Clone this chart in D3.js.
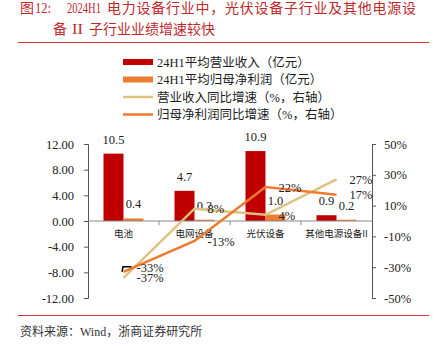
<!DOCTYPE html>
<html>
<head>
<meta charset="utf-8">
<script src="https://cdn.jsdelivr.net/npm/d3@7/dist/d3.min.js"></script>
<style>
  html, body { margin: 0; padding: 0; background: #fff; }
  svg { display: block; }
  text { font-family: "Liberation Serif", "Noto Sans CJK SC", serif; }
</style>
</head>
<body>
<svg id="chart" width="437" height="346"></svg>
<script>
// Sub-industry results, 2024H1
const categories = ["电池", "电网设备", "光伏设备", "其他电源设备II"];
const revenue = [10.5, 4.7, 10.9, 0.9];        // 平均营业收入（亿元）
const profit = [0.4, 0.2, 1.0, 0.2];           // 平均归母净利润（亿元）
const revenueYoY = [-37, 8, 4, 27];            // 营业收入同比增速（%）
const profitYoY = [-33, -13, 22, 17];          // 归母净利润同比增速（%）
const leftTicks = [12, 8, 4, 0, -4, -8, -12];
const rightTicks = [50, 30, 10, -10, -30, -50];
const legendLabels = [
  "24H1平均营业收入（亿元）",
  "24H1平均归母净利润（亿元）",
  "营业收入同比增速（%，右轴）",
  "归母净利润同比增速（%，右轴）"
];

const C = {
  title: "#c0282d",
  rev: "#c00000",
  profit: "#ed7d31",
  revLine: "#dfc27d",
  profitLine: "#ee7a30",
  axis: "#555",
  text: "#222"
};

const svg = d3.select("#chart");

// ---- title block ----
const cjk = "'Noto Sans CJK SC', sans-serif";
function titlePart(x, y, txt, opts = {}) {
  const t = svg.append("text").attr("x", x).attr("y", y).attr("fill", C.title)
    .style("font-size", (opts.size || 14) + "px").text(txt);
  if (opts.cjk) t.style("font-family", cjk);
  if (opts.spacing) t.style("letter-spacing", opts.spacing + "px");
  if (opts.len) t.attr("textLength", opts.len).attr("lengthAdjust", "spacingAndGlyphs");
  return t;
}
titlePart(20, 13, "图", { cjk: true });
titlePart(35, 13, "12:", { len: 16, size: 15 });
titlePart(67, 13, "2024H1", { len: 34, size: 15 });
titlePart(107, 13, "电力设备行业中，光伏设备子行业及其他电源设", { cjk: true, spacing: 0.75 });
titlePart(53, 34, "备", { cjk: true });
titlePart(72, 34, "II", { len: 11, size: 15 });
titlePart(89, 34, "子行业业绩增速较快", { cjk: true });
svg.append("line").attr("x1", 18).attr("x2", 429).attr("y1", 42.5).attr("y2", 42.5)
  .attr("stroke", "#d9373c").attr("stroke-width", 1);

// ---- scales ----
const plot = { left: 88, right: 372, top: 144, bottom: 298 };
const x = d3.scaleBand().domain(categories).range([plot.left, plot.right]);
const inner = d3.scaleBand().domain(["rev", "profit"]).range([-20, 20]);
const yL = d3.scaleLinear().domain([-12, 12]).range([plot.bottom, plot.top]);
const yR = d3.scaleLinear().domain([-50, 50]).range([plot.bottom, plot.top]);
const cx = c => x(c) + x.bandwidth() / 2;

// ---- axes ----
const leftAxis = d3.axisLeft(yL).tickValues(leftTicks).tickSize(4).tickPadding(10)
  .tickFormat(d => d.toFixed(2));
const gL = svg.append("g").attr("transform", `translate(${plot.left},0)`).call(leftAxis);
const rightAxis = d3.axisRight(yR).tickValues(rightTicks).tickSize(4).tickPadding(8)
  .tickFormat(d => d + "%");
const gR = svg.append("g").attr("transform", `translate(${plot.right},0)`).call(rightAxis);
[gL, gR].forEach(g => {
  g.select(".domain").attr("stroke", C.axis);
  g.selectAll(".tick line").attr("stroke", C.axis);
  g.selectAll(".tick text").attr("fill", C.text)
    .style("font-size", "12.5px").style("font-family", "'Liberation Serif', serif");
});

// ---- bars ----
const bars = svg.append("g");
categories.forEach((c, i) => {
  bars.append("rect")
    .attr("x", cx(c) + inner("rev")).attr("width", inner.bandwidth())
    .attr("y", yL(revenue[i])).attr("height", yL(0) - yL(revenue[i]))
    .attr("fill", C.rev);
  bars.append("rect")
    .attr("x", cx(c) + inner("profit")).attr("width", inner.bandwidth())
    .attr("y", yL(profit[i])).attr("height", yL(0) - yL(profit[i]))
    .attr("fill", C.profit);
});

// zero baseline with category separators
const base = svg.append("g");
base.append("line").attr("x1", plot.left).attr("x2", plot.right)
  .attr("y1", yL(0)).attr("y2", yL(0)).attr("stroke", "#888").attr("stroke-width", 1);
categories.slice(1).forEach(c => {
  base.append("line").attr("x1", x(c)).attr("x2", x(c))
    .attr("y1", yL(0)).attr("y2", yL(0) + 4).attr("stroke", "#888");
});

// category labels
svg.append("g").selectAll("text").data(categories).join("text")
  .attr("x", d => cx(d)).attr("y", yL(0) + 15.5).attr("text-anchor", "middle")
  .attr("fill", C.text).style("font-size", "9.5px").style("font-family", cjk)
  .text(d => d);

// bar value labels
const barLbl = svg.append("g").style("font-size", "12.5px").attr("fill", C.text)
  .attr("text-anchor", "middle");
categories.forEach((c, i) => {
  barLbl.append("text").attr("x", cx(c) + inner("rev") + 10).attr("y", yL(revenue[i]) - 10)
    .text(revenue[i].toFixed(1));
  barLbl.append("text").attr("x", cx(c) + inner("profit") + 10).attr("y", yL(profit[i]) - 10)
    .text(profit[i].toFixed(1));
});

// ---- lines (right axis) ----
const line = d3.line().x((d, i) => cx(categories[i])).y(d => yR(d));
svg.append("path").datum(revenueYoY).attr("d", line)
  .attr("fill", "none").attr("stroke", C.revLine).attr("stroke-width", 2.5);
svg.append("path").datum(profitYoY).attr("d", line)
  .attr("fill", "none").attr("stroke", C.profitLine).attr("stroke-width", 2.5);

// line value labels, set to the right of each point
const lineLbl = svg.append("g").style("font-size", "12.5px").attr("fill", C.text);
const nudge = { rev: [0, 0, 1, 0], profit: [-4, 0, 0, 0] };
categories.forEach((c, i) => {
  lineLbl.append("text").attr("x", cx(c) + 13).attr("y", yR(revenueYoY[i]) + 4.5 + nudge.rev[i])
    .text(revenueYoY[i] + "%");
  lineLbl.append("text").attr("x", cx(c) + 13).attr("y", yR(profitYoY[i]) + 4.5 + nudge.profit[i])
    .text(profitYoY[i] + "%");
});
// short leader for the shifted first label
{
  const px = cx(categories[0]), py = yR(profitYoY[0]);
  svg.append("path")
    .attr("d", `M${px - 1.5},${py} L${px - 0.5},${py - 5} L${px + 8},${py - 5}`)
    .attr("fill", "none").attr("stroke", "#000").attr("stroke-width", 1.5);
}

// ---- legend ----
const legend = svg.append("g");
const rowY = [62, 79.5, 97, 114.5];
legendLabels.forEach((t, i) => {
  const y = rowY[i];
  if (i < 2) {
    legend.append("rect").attr("x", 123).attr("y", y - 3).attr("width", 30).attr("height", 6)
      .attr("fill", i === 0 ? C.rev : C.profit);
  } else {
    legend.append("line").attr("x1", 123).attr("x2", 153).attr("y1", y).attr("y2", y)
      .attr("stroke", i === 2 ? C.revLine : C.profitLine).attr("stroke-width", 2.5);
  }
  legend.append("text").attr("x", 157).attr("y", y + 4.5).attr("fill", C.text)
    .style("font-size", "12.5px").text(t);
});

// ---- source ----
svg.append("line").attr("x1", 18).attr("x2", 429).attr("y1", 315.5).attr("y2", 315.5)
  .attr("stroke", "#d9373c").attr("stroke-width", 1);
svg.append("text").attr("x", 20).attr("y", 336).attr("fill", "#333")
  .style("font-size", "12px").text("资料来源：Wind，浙商证券研究所");
</script>
</body>
</html>
